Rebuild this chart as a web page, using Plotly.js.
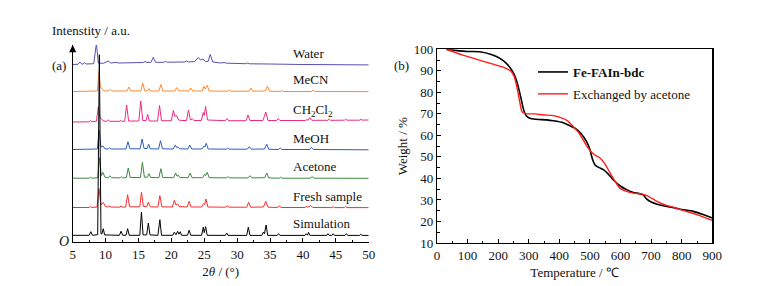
<!DOCTYPE html>
<html>
<head>
<meta charset="utf-8">
<script src="https://cdn.plot.ly/plotly-3.0.1.min.js"></script>
<style>html,body{margin:0;padding:0;background:#fff;}#chart{width:757px;height:286px;}</style>
</head>
<body>
<div id="chart"></div>
<script>
// ---------- Panel (a): PXRD patterns (2theta, relative intensity) ----------
const sampleNames = ["Water", "MeCN", "CH<sub>2</sub>Cl<sub>2</sub>", "MeOH", "Acetone", "Fresh sample", "Simulation"];
const stackOffsets = [176.5, 150, 119.5, 92, 63.3, 34, 6.3];

const waterPts = [[5,1],[5.8,1.2],[6.1,3.5],[6.4,1.3],[6.6,1.5],[6.8,3],[7.0,1.5],[8.2,1.8],[8.6,22],[8.9,2.5],[9.7,2.2],[10.4,4.5],[10.8,2.4],[11.3,2.5],[11.6,3.2],[11.9,2.5],[15.7,3],[16.0,4],[16.3,3],[16.9,3.2],[17.25,8.2],[17.6,3.2],[18.8,3.2],[19.1,4],[19.4,3.3],[22.0,3.5],[22.3,4.5],[22.6,3.6],[23.5,3.8],[24.1,8],[24.45,5.5],[24.8,6.5],[25.2,4],[25.6,4.2],[25.9,11],[26.3,3.5],[27.5,2.5],[28.0,3],[28.4,2.3],[31.3,1.8],[31.6,2.4],[31.9,1.7],[34.3,1.6],[34.6,2.2],[34.9,1.5],[40,1],[45,0.8],[50,0.6]];
const mecnPts = [[5,0.5],[7.5,0.5],[7.7,1.2],[7.9,0.5],[8.75,1],[9.0,21],[9.2,5],[9.4,4],[9.7,1.2],[10.45,1],[10.7,2.7],[10.95,1],[12.2,0.8],[12.45,1.5],[12.7,0.8],[13.25,1],[13.55,5],[13.85,1],[15.35,1.2],[15.65,9],[15.95,1.2],[16.35,1.2],[16.6,3.4],[16.85,1],[18.1,1],[18.4,7.4],[18.7,1],[20.5,1],[20.8,4.4],[21.1,1.2],[22.65,1],[22.95,4],[23.25,1],[24.7,1],[24.95,5.7],[25.15,3],[25.45,6.7],[25.75,1],[28.55,0.8],[28.8,2],[29.05,0.8],[31.8,0.8],[32.1,4],[32.4,0.8],[34.25,1],[34.6,5.7],[34.9,0.8],[36.6,0.5],[36.8,1.5],[37.0,0.5],[41.3,0.5],[41.55,2],[41.8,0.5],[46.5,0.4],[46.7,1],[46.9,0.4],[48.6,0.4],[48.8,1],[49.0,0.4],[50,0.4]];
const dcmPts = [[5,0.5],[7.5,0.7],[7.7,2],[7.9,0.8],[8.6,1.2],[8.9,15.5],[9.15,5],[9.35,4],[9.65,1.5],[10.2,1.2],[10.4,2.5],[10.65,1.2],[12.1,1.2],[12.3,2],[12.5,1.2],[12.9,1.3],[13.2,17.5],[13.5,1.5],[15.05,1.5],[15.35,21.5],[15.65,2],[16.15,2],[16.4,8],[16.65,1.5],[17.9,1.5],[18.2,17],[18.5,1.8],[20.0,1.8],[20.3,12],[20.55,6],[20.8,7],[21.1,2.5],[21.6,2],[22.3,2],[22.6,12.5],[22.9,2.5],[23.2,3.5],[23.45,2],[24.55,2],[24.85,10],[25.0,7],[25.2,16],[25.5,2.5],[28.2,1.8],[28.45,4],[28.7,1.8],[31.35,1.8],[31.65,7.5],[31.95,2],[33.9,2],[34.0,3.5],[34.35,10.5],[34.7,2],[36.0,2],[36.25,4],[36.5,2],[40.4,2],[40.6,3],[40.8,2.2],[41.05,5],[41.35,2.2],[43.8,2.2],[44.0,3.5],[44.2,2.2],[46.3,2.3],[46.5,3.5],[46.7,2.3],[48.6,2.3],[48.8,3.2],[49.0,2.4],[50,2.5]];
const meohPts = [[5,0.5],[7.5,0.5],[7.7,1.2],[7.9,0.5],[8.75,1],[9.0,20],[9.3,3],[9.6,4],[9.9,1.2],[10.4,1],[10.6,2.2],[10.85,1],[12.2,0.8],[12.4,1.5],[12.6,0.8],[13.1,1],[13.4,8.3],[13.7,1.2],[15.25,1.2],[15.55,11],[15.85,1.5],[16.3,1.5],[16.55,5.7],[16.8,1.2],[18.05,1],[18.35,9.3],[18.65,1.2],[20.3,1],[20.6,5],[20.8,2.5],[21.0,3],[21.25,1.2],[22.5,1],[22.8,5],[23.1,1],[24.65,1],[24.95,4],[25.1,3],[25.3,6.7],[25.6,1],[28.3,0.8],[28.55,1.8],[28.8,0.8],[31.55,0.8],[31.85,3.3],[32.15,0.8],[34.15,1],[34.5,5.7],[34.8,0.8],[36.3,0.5],[36.55,2],[36.8,0.5],[41.0,0.5],[41.3,2.5],[41.6,0.5],[44.5,0.4],[44.7,1],[44.9,0.4],[46.3,0.4],[46.5,1],[46.7,0.4],[50,0.2]];
const acetonePts = [[5,0.5],[7.5,0.5],[7.7,1.5],[7.9,0.5],[8.8,1],[9.1,21],[9.35,3],[9.6,6.3],[9.9,1.5],[10.4,1],[10.65,3],[10.9,1],[12.2,0.8],[12.4,2],[12.6,0.8],[13.15,1],[13.45,10.7],[13.75,1.2],[15.3,1.2],[15.6,16.4],[15.9,1.5],[16.35,1.5],[16.6,5],[16.85,1.2],[18.1,1],[18.4,10],[18.7,1.2],[20.35,1],[20.65,5.7],[20.85,2.5],[21.05,3.5],[21.3,1.2],[22.55,1],[22.85,5.7],[23.15,1],[24.75,1],[25.05,4.5],[25.2,3],[25.45,6.4],[25.75,1],[28.35,0.8],[28.6,2],[28.85,0.8],[31.65,0.8],[31.95,3],[32.25,0.8],[34.2,1],[34.5,5.7],[34.8,0.8],[36.4,0.5],[36.6,1.5],[36.8,0.5],[41.1,0.5],[41.4,2],[41.7,0.5],[46.5,0.4],[46.7,1],[46.9,0.4],[50,0.4]];
const freshPts = [[5,0.5],[7.5,0.5],[7.7,1.5],[7.9,0.5],[8.7,1],[9.0,19.5],[9.3,3],[9.65,5.7],[9.95,1.5],[10.3,1],[10.5,2],[10.8,1],[12.1,0.8],[12.35,1.8],[12.6,0.8],[13.05,1],[13.35,13.3],[13.65,1.2],[15.2,1.2],[15.45,15.7],[15.75,1.5],[16.25,1.5],[16.5,5.7],[16.8,1.2],[17.95,1],[18.25,12.3],[18.55,1.2],[20.15,1],[20.45,7.7],[20.7,3],[20.95,4],[21.2,1.5],[22.4,1],[22.7,6.7],[23.0,1],[24.6,1],[24.9,4.5],[25.05,3.5],[25.25,9],[25.55,1],[28.2,0.8],[28.5,2],[28.8,0.8],[31.45,0.8],[31.75,5.7],[32.05,0.8],[34.0,1],[34.35,6.7],[34.7,0.8],[36.1,0.5],[36.4,2],[36.7,0.5],[40.3,0.5],[40.5,1.5],[40.8,0.8],[41.2,2.5],[41.5,0.5],[44.4,0.4],[44.6,1.2],[44.8,0.4],[46.3,0.4],[46.5,1.5],[46.7,0.4],[50,0.4]];
const simPts = [[5,0.4],[7.5,0.4],[7.75,4],[8.0,0.4],[8.8,1],[9.05,181],[9.3,2],[9.45,2],[9.65,7],[9.85,0.8],[12.1,0.4],[12.35,4.5],[12.6,0.4],[13.1,0.4],[13.35,7],[13.6,0.4],[15.2,0.4],[15.45,23.5],[15.7,0.8],[16.25,0.8],[16.5,12.7],[16.75,0.8],[17.95,0.4],[18.25,16],[18.5,0.4],[20.2,0.4],[20.45,3.5],[20.7,1],[20.95,4.4],[21.15,1.5],[21.35,4],[21.55,0.4],[22.45,0.4],[22.7,5.5],[22.95,0.4],[24.6,0.4],[24.85,8.5],[25.0,3],[25.2,9],[25.45,0.4],[28.2,0.3],[28.4,2.7],[28.6,0.3],[31.45,0.3],[31.7,8.5],[31.95,0.3],[33.75,0.3],[34.0,3.7],[34.15,2],[34.25,5],[34.4,10.7],[34.65,0.3],[36.1,0.3],[36.3,2],[36.5,0.3],[40.3,0.3],[40.5,2],[40.7,0.5],[40.85,3.4],[41.05,0.5],[41.25,0.3],[43.6,0.3],[43.8,2],[44.0,0.3],[44.4,0.3],[44.6,2],[44.8,0.3],[46.4,0.3],[46.6,2],[46.8,0.3],[48.6,0.3],[48.8,1.5],[49.0,0.3],[50,0.3]];
const patterns = [waterPts, mecnPts, dcmPts, meohPts, acetonePts, freshPts, simPts];

// ---------- Panel (b): TGA curves ----------
const tgaNames = ["<b>Fe-FAIn-bdc</b>", "Exchanged by acetone"];
const tempFresh = [30, 60, 100, 140, 180, 206, 230, 245, 255, 265, 275, 283, 290, 300, 315, 358, 380, 413, 430, 451, 470, 489, 500, 508, 516, 530, 544, 560, 576, 598, 620, 642, 660, 674, 685, 702, 720, 740, 780, 800, 838, 870, 900];
const weightFresh = [100, 99.5, 99, 98.9, 97.5, 95.8, 93, 90.2, 87.5, 83, 77, 72, 69.5, 68.2, 67.6, 67.2, 66.8, 65.9, 64.8, 63.3, 61, 57.1, 53.4, 49, 46.4, 45, 44.1, 42, 39.4, 36.6, 34.8, 33.5, 33, 32.4, 30.5, 28.9, 28, 27.3, 26.2, 25.6, 24.7, 23.2, 21.6];
const tempAcetone = [30, 80, 130, 180, 220, 240, 252, 262, 270, 278, 290, 320, 348, 380, 402, 425, 446, 465, 478, 490, 500, 515, 533, 550, 566, 582, 598, 620, 642, 665, 685, 705, 729, 750, 773, 800, 850, 900];
const weightAcetone = [100, 97.5, 95.3, 93.2, 91.5, 90, 87.5, 82, 76, 71, 70.1, 70, 69.5, 69.2, 68.4, 67, 64, 61, 57.9, 55, 53, 51, 49.5, 46.5, 42.5, 38.7, 35.5, 34, 33.2, 32.8, 32.1, 30.5, 28.6, 27.5, 26.6, 25.3, 23.2, 20.5];

// ---------- styles ----------
const xrdColors = ["#5a4fb0", "#ff8a2e", "#ee2a7f", "#2f5cbf", "#3a8a3f", "#ff2b2b", "#000000"];
const SERIF = "'Liberation Serif', 'Times New Roman', serif";
const W = 757, H = 286;
const TOP_A = 45;

const traces = [];
patterns.forEach((pts, i) => {
  traces.push({
    x: pts.map(p => p[0]),
    y: pts.map(p => p[1] + stackOffsets[i]),
    xaxis: "x", yaxis: "y", type: "scatter", mode: "lines",
    line: {color: xrdColors[i], width: 1}, showlegend: false, hoverinfo: "skip"
  });
});
traces.push({x: tempFresh, y: weightFresh, xaxis: "x2", yaxis: "y2", type: "scatter", mode: "lines",
  name: tgaNames[0], legendgroup: "g1", line: {color: "#000", width: 1.6, shape: "spline", smoothing: 0.6}});
traces.push({x: tempAcetone, y: weightAcetone, xaxis: "x2", yaxis: "y2", type: "scatter", mode: "lines",
  name: tgaNames[1], legendgroup: "g2", line: {color: "#ff1a1a", width: 1.4, shape: "spline", smoothing: 0.6}});

const txtFont = {family: SERIF, size: 13, color: "#111"};
const annotations = [
  {xref: "paper", yref: "paper", x: 50 / W, y: 1 - 30.5 / H, xanchor: "left", yanchor: "middle", showarrow: false,
   text: "Intenstity / a.u.", font: txtFont},
  {xref: "paper", yref: "paper", x: 50 / W, y: 1 - 65 / H, xanchor: "left", yanchor: "middle", showarrow: false,
   text: "(a)", font: txtFont},
  {xref: "paper", yref: "paper", x: 392 / W, y: 1 - 65 / H, xanchor: "left", yanchor: "middle", showarrow: false,
   text: "(b)", font: txtFont},
  {xref: "paper", yref: "paper", x: 64 / W, y: 1 - 241 / H, xanchor: "center", yanchor: "middle", showarrow: false,
   text: "<i>O</i>", font: {family: SERIF, size: 14, color: "#111"}},
  {xref: "x", yref: "y", x: 5, y: 242 - TOP_A, ax: 0, ay: 14, axref: "pixel", ayref: "pixel", text: " ",
   showarrow: true, arrowhead: 2, arrowsize: 1.1, arrowwidth: 1.3, arrowcolor: "#000", standoff: 0}
];
sampleNames.forEach((n, i) => {
  annotations.push({xref: "x", yref: "y", x: 38.2, y: stackOffsets[i] + 12, xanchor: "left", yanchor: "middle",
    showarrow: false, text: n, font: txtFont});
});

const layout = {
  width: W, height: H, margin: {l: 0, r: 0, t: 0, b: 0, pad: 0},
  paper_bgcolor: "#fff", plot_bgcolor: "rgba(0,0,0,0)",
  font: txtFont,
  xaxis: {domain: [72.7 / W, 368.7 / W], range: [5, 50], anchor: "y", showline: true, linecolor: "#000", linewidth: 1.2,
    ticks: "inside", ticklen: 4, tickwidth: 1, tickcolor: "#000", dtick: 5, tick0: 5,
    minor: {ticks: "inside", ticklen: 2.5, dtick: 2.5, tickcolor: "#000"},
    showgrid: false, zeroline: false, tickfont: txtFont,
    title: {text: "2<i>θ</i> / (°)", font: txtFont, standoff: 6}},
  yaxis: {domain: [1 - 242 / H, 1 - TOP_A / H], range: [0, 242 - TOP_A], anchor: "x", showline: true, linecolor: "#000", linewidth: 1.2,
    ticks: "", showticklabels: false, showgrid: false, zeroline: false},
  xaxis2: {domain: [437 / W, 712.3 / W], range: [0, 900], anchor: "y2", showline: true, mirror: true, linecolor: "#000", linewidth: 1.2,
    ticks: "inside", ticklen: 4, tickwidth: 1, tickcolor: "#000", dtick: 100,
    minor: {ticks: "inside", ticklen: 2.5, dtick: 50, tickcolor: "#000"},
    showgrid: false, zeroline: false, tickfont: txtFont,
    title: {text: "Temperature / ℃", font: txtFont, standoff: 6}},
  yaxis2: {domain: [1 - 243 / H, 1 - 49.3 / H], range: [10, 100], anchor: "x2", showline: true, mirror: true, linecolor: "#000", linewidth: 1.2,
    ticks: "inside", ticklen: 4, tickwidth: 1, tickcolor: "#000", dtick: 10,
    minor: {ticks: "inside", ticklen: 2.5, dtick: 5, tickcolor: "#000"},
    showgrid: false, zeroline: false, tickfont: txtFont,
    title: {text: "Weight / %", font: txtFont, standoff: 3}},
  legend: {x: 533 / W, y: 1 - 57 / H, xanchor: "left", yanchor: "top", bgcolor: "rgba(0,0,0,0)",
    font: txtFont, tracegroupgap: 2, traceorder: "grouped"},
  showlegend: true,
  annotations: annotations
};

Plotly.newPlot("chart", traces, layout, {displayModeBar: false, staticPlot: true});
</script>
</body>
</html>
